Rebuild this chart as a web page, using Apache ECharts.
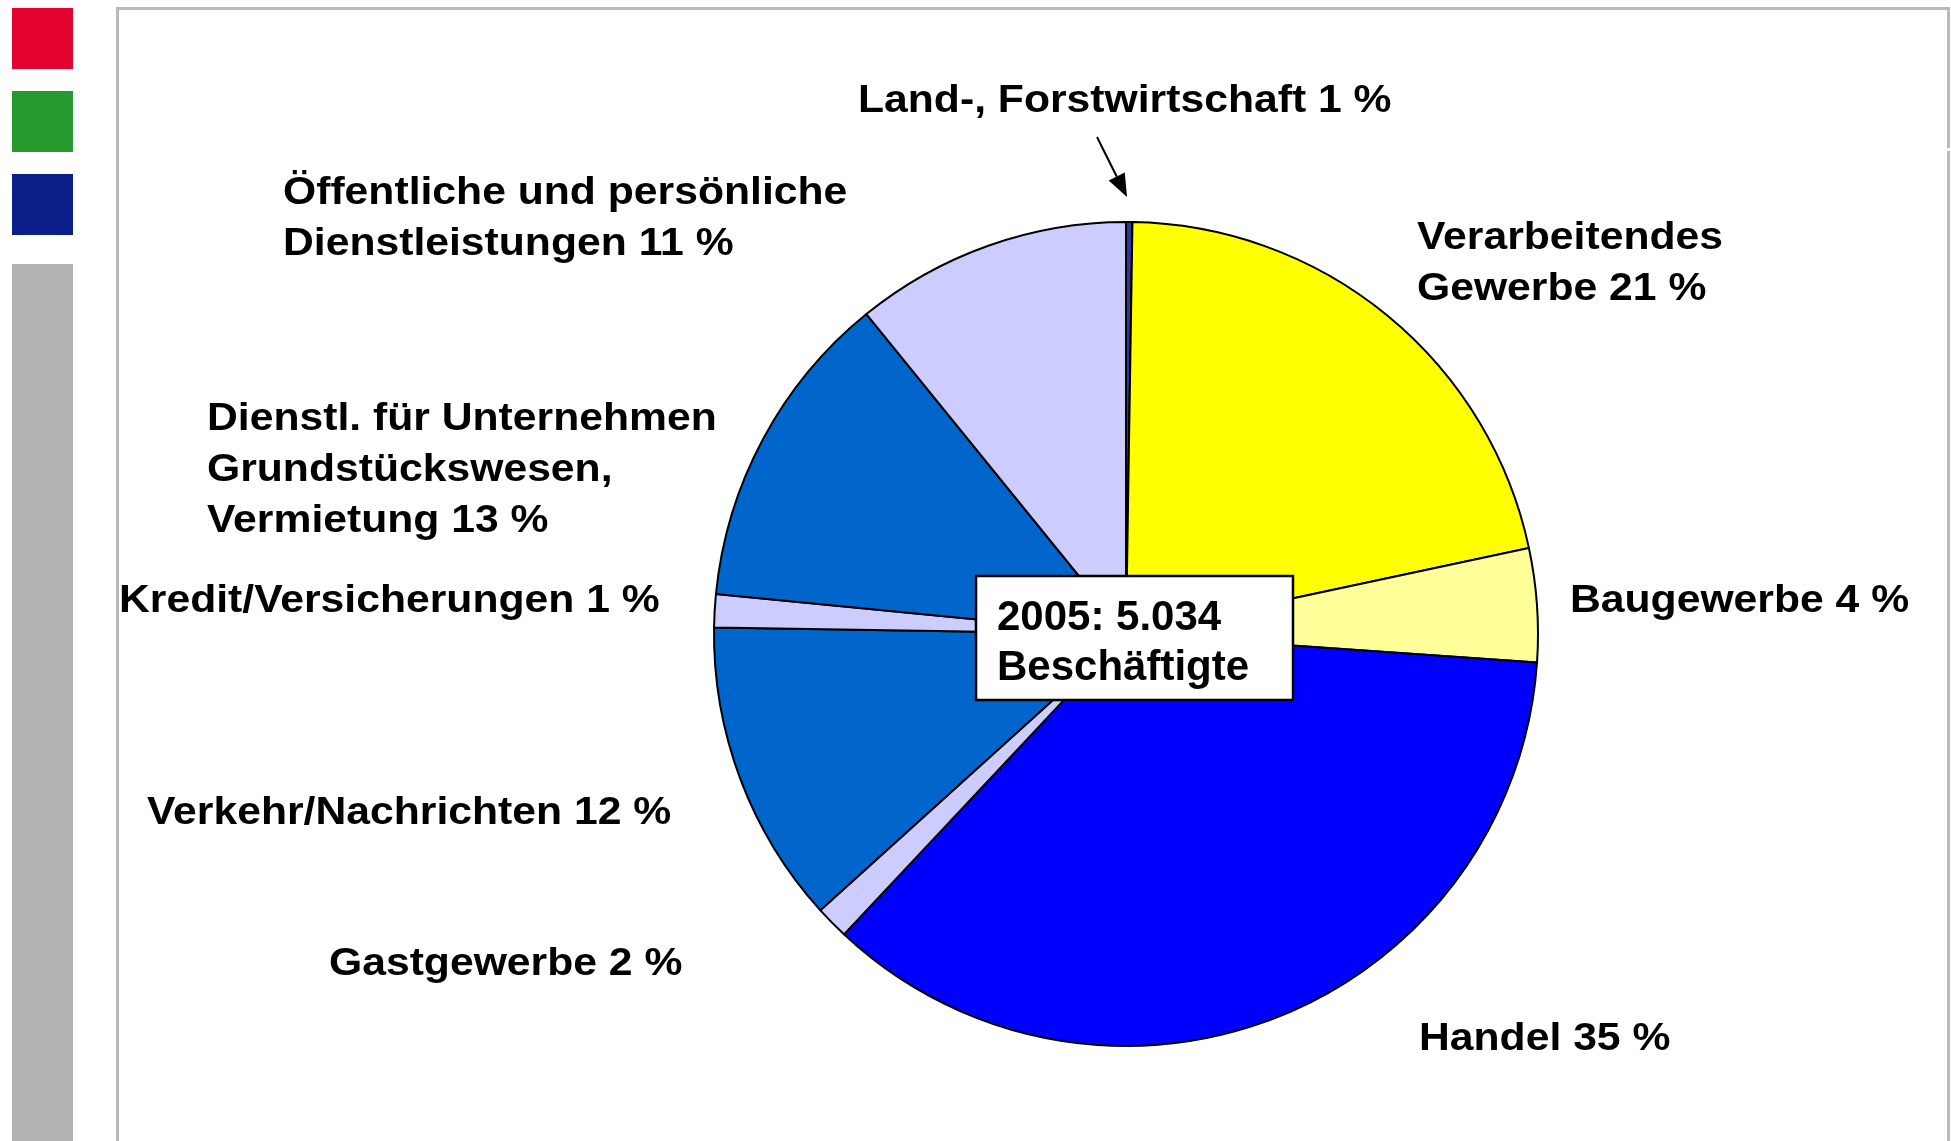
<!DOCTYPE html>
<html><head><meta charset="utf-8">
<script src="https://cdn.jsdelivr.net/npm/echarts@6/dist/echarts.min.js"></script>
<style>html,body{margin:0;padding:0;background:#fff}#c{width:1951px;height:1141px}</style>
</head><body><div id="c"></div>
<script>
const categories = ['Land-, Forstwirtschaft', 'Verarbeitendes\nGewerbe', 'Baugewerbe', 'Handel', 'Gastgewerbe', 'Verkehr/Nachrichten', 'Kredit/Versicherungen', 'Dienstl. für Unternehmen\nGrundstückswesen,\nVermietung', 'Öffentliche und persönliche\nDienstleistungen'];
const shares = [0.25, 21.4, 4.45, 35.9, 1.3, 11.95, 1.3, 12.6, 10.85];
const labelPercents = [1, 21, 4, 35, 2, 12, 1, 13, 11];
const centerText = ['2005: 5.034', 'Beschäftigte'];

const sliceColors = ['#333399', '#ffff00', '#ffff99', '#0000ff', '#ccccff', '#0066cc', '#ccccff', '#0066cc', '#ccccff'];
const labelPos = [[858, 102], [1417, 264], [1570, 602], [1419, 1040], [329, 965], [147, 814], [119, 602], [207, 471], [283, 219]];
const FONT = '"Liberation Sans", Arial, Helvetica, sans-serif';
const LABEL_STRETCH = 1.123;

const chart = echarts.init(document.getElementById('c'), null, {renderer: 'canvas'});

// arrow geometry (annotation)
const aFrom = [1097, 137], aTip = [1127, 197];
const dx = aTip[0] - aFrom[0], dy = aTip[1] - aFrom[1];
const len = Math.sqrt(dx * dx + dy * dy), ux = dx / len, uy = dy / len;
const hl = 23, hw = 9;
const baseX = aTip[0] - ux * hl, baseY = aTip[1] - uy * hl;
const headPts = [[aTip[0], aTip[1]], [baseX - uy * hw, baseY + ux * hw], [baseX + uy * hw, baseY - ux * hw]];

const frameColor = '#bababa';
const graphics = [
  {type: 'rect', shape: {x: 12, y: 8, width: 61, height: 61}, style: {fill: '#e4002f'}, silent: true},
  {type: 'rect', shape: {x: 12, y: 91, width: 61, height: 61}, style: {fill: '#279a2f'}, silent: true},
  {type: 'rect', shape: {x: 12, y: 174, width: 61, height: 61}, style: {fill: '#0a1f8a'}, silent: true},
  {type: 'rect', shape: {x: 12, y: 264, width: 61, height: 877}, style: {fill: '#b3b3b3'}, silent: true},
  {type: 'rect', shape: {x: 116, y: 7, width: 3, height: 1134}, style: {fill: frameColor}, silent: true},
  {type: 'rect', shape: {x: 116, y: 7, width: 1834, height: 3}, style: {fill: frameColor}, silent: true},
  {type: 'rect', shape: {x: 1947, y: 7, width: 3, height: 141}, style: {fill: frameColor}, silent: true},
  {type: 'rect', shape: {x: 1947, y: 151, width: 3, height: 990}, style: {fill: frameColor}, silent: true},
  {type: 'line', shape: {x1: aFrom[0], y1: aFrom[1], x2: baseX, y2: baseY}, style: {stroke: '#000', lineWidth: 2}, silent: true, z: 10},
  {type: 'polygon', shape: {points: headPts}, style: {fill: '#000'}, silent: true, z: 10},
  {type: 'rect', shape: {x: 976, y: 576, width: 317, height: 124}, style: {fill: '#fff', stroke: '#000', lineWidth: 2.5}, silent: true, z: 20},
  {type: 'text', x: 997, y: 643, z: 21, silent: true,
   style: {text: centerText.join('\n'), font: 'bold 42px ' + FONT, fill: '#000', textAlign: 'left', textVerticalAlign: 'middle', lineHeight: 50}}
];

// slice labels (text built from the data arrays)
categories.forEach((c, i) => {
  graphics.push({
    type: 'text', x: labelPos[i][0], y: labelPos[i][1], scaleX: LABEL_STRETCH, scaleY: 1, z: 15, silent: true,
    style: {text: c + ' ' + labelPercents[i] + ' %', font: 'bold 38px ' + FONT, fill: '#000',
            textAlign: 'left', textVerticalAlign: 'middle', lineHeight: 51}
  });
});

chart.setOption({
  animation: false,
  backgroundColor: '#ffffff',
  graphic: graphics,
  series: [{
    type: 'pie',
    center: [1126, 634],
    radius: 412,
    startAngle: 90,
    clockwise: true,
    avoidLabelOverlap: false,
    silent: true,
    emphasis: {disabled: true},
    itemStyle: {borderColor: '#000', borderWidth: 2},
    label: {show: false},
    labelLine: {show: false},
    data: categories.map((c, i) => ({name: c, value: shares[i], itemStyle: {color: sliceColors[i]}}))
  }]
});
</script></body></html>
